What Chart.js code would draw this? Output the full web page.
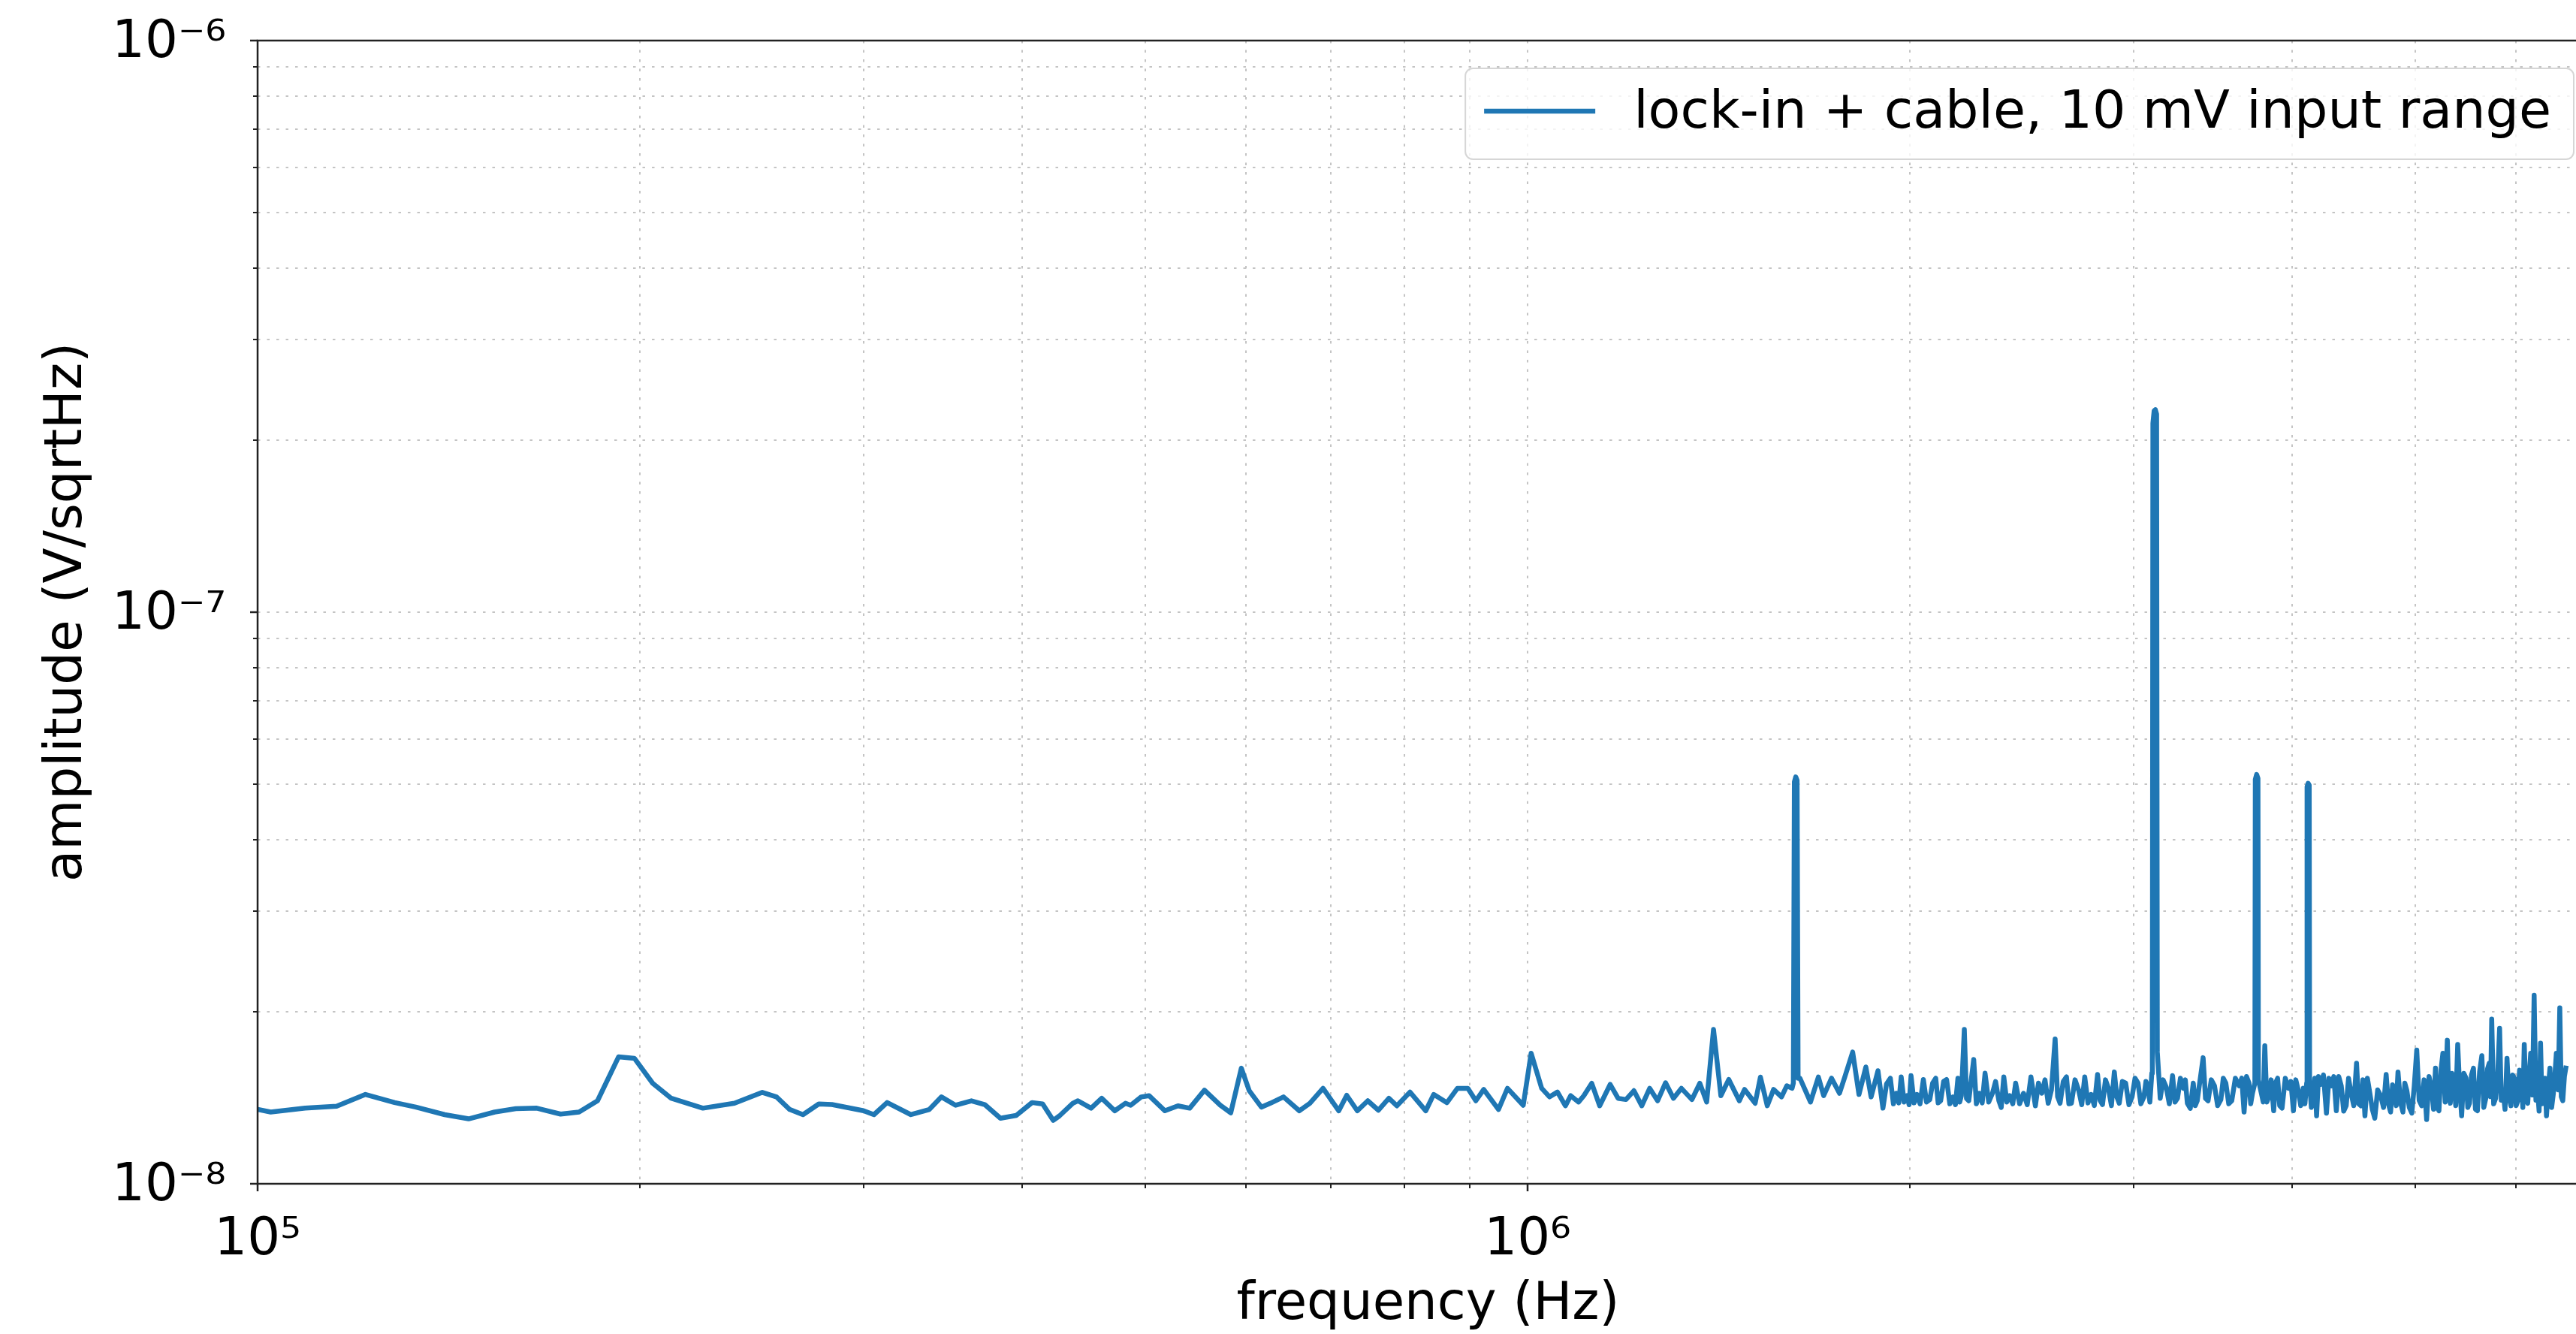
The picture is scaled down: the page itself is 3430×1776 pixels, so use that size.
<!DOCTYPE html>
<html>
<head>
<meta charset="utf-8">
<title>lock-in noise spectrum</title>
<script src="https://cdn.jsdelivr.net/npm/chart.js@4.4.1/dist/chart.umd.min.js"></script>
<style>
  html, body { margin: 0; padding: 0; background: #fff; overflow: hidden; }
  #wrap { width: 3470px; height: 1776px; }
</style>
</head>
<body>
<div id="wrap"><canvas id="spectrumChart" width="3470" height="1776"></canvas></div>
<script>
// frequency in kHz, amplitude in nV/sqrtHz
const lowFreqKHz = [
  100.0, 102.4, 109.0, 115.4, 121.6, 128.2, 133.2, 140.4, 146.6, 153.7,
  159.7, 165.9, 173.2, 179.1, 185.2, 192.4, 198.0, 204.7, 211.7, 224.2,
  237.4, 249.7, 256.2, 262.4, 268.8, 276.6, 283.3, 300.0, 305.7, 313.1,
  326.9, 338.0, 345.5, 354.5, 364.8, 373.7, 384.5, 395.7, 407.2, 415.1,
  423.1
];
const lowAmpNV = [
  13.49, 13.35, 13.56, 13.67, 14.33, 13.87, 13.62, 13.21, 12.99, 13.35,
  13.53, 13.56, 13.24, 13.35, 13.97, 16.67, 16.58, 14.99, 14.11, 13.56,
  13.83, 14.45, 14.19, 13.49, 13.21, 13.79, 13.76, 13.42, 13.21, 13.87,
  13.21, 13.49, 14.19, 13.72, 13.97, 13.76, 13.02, 13.17, 13.87, 13.79,
  12.91
];

const midFreqKHz = [
  428.0, 438.4, 442.5, 453.2, 462.0, 473.1, 482.3, 486.9, 496.3, 503.4,
  518.1, 530.5, 541.9, 556.6, 572.8, 583.8, 595.1, 603.7, 617.1, 627.2,
  642.4, 661.0, 673.8, 690.1, 710.1, 720.4, 734.3, 748.4, 762.9, 777.6,
  788.9, 807.9, 831.4, 843.4, 863.8, 880.5, 897.4, 910.4, 923.5, 948.6,
  964.1, 992.1, 1006.4, 1025.8, 1040.6, 1055.6, 1070.9, 1081.2, 1096.8, 1107.3,
  1123.3, 1139.5, 1161.5, 1178.2, 1195.2, 1212.5, 1230.0, 1247.8, 1265.8, 1284.1,
  1302.7, 1321.5, 1347.0, 1366.4, 1383.5, 1400.8, 1419.6, 1440.1, 1468.0, 1482.0,
  1510.6, 1525.2, 1544.2, 1562.0, 1584.6, 1599.8, 1615.2, 1619.0, 1622.0, 1626.0,
  1630.0, 1633.0, 1638.5, 1670.0, 1694.1, 1710.4, 1735.1, 1760.2, 1777.1, 1802.8,
  1823.5, 1846.4, 1864.1, 1887.4
];
const midAmpNV = [
  13.15, 13.83, 13.97, 13.56, 14.11, 13.42, 13.83, 13.72, 14.19, 14.26,
  13.42, 13.69, 13.56, 14.58, 13.72, 13.31, 15.93, 14.55, 13.62, 13.83,
  14.19, 13.42, 13.83, 14.69, 13.42, 14.28, 13.42, 13.97, 13.45, 14.11,
  13.69, 14.47, 13.42, 14.33, 13.86, 14.69, 14.69, 13.97, 14.62, 13.49,
  14.69, 13.72, 16.92, 14.69, 14.19, 14.47, 13.69, 14.26, 13.90, 14.26,
  14.99, 13.69, 14.92, 14.11, 14.04, 14.55, 13.69, 14.69, 13.97, 15.02,
  14.11, 14.69, 14.04, 14.99, 13.90, 18.62, 14.26, 15.22, 13.97, 14.62,
  13.83, 15.37, 13.69, 14.62, 14.19, 14.84, 14.69, 15.0, 50.5, 51.5,
  50.8, 15.3, 15.30, 13.90, 15.37, 14.26, 15.30, 14.40, 15.37, 17.00,
  14.33, 16.01, 14.19, 15.77
];

const highFreqKHz = [
  1904.5, 1917.0, 1930.2, 1941.0, 1951.1, 1960.0, 1968.6, 1979.0, 1989.8, 1997.0,
  2004.1, 2015.0, 2025.7, 2037.0, 2049.4, 2061.0, 2073.4, 2084.0, 2095.8, 2105.0,
  2114.6, 2126.0, 2137.4, 2150.0, 2162.4, 2172.0, 2181.8, 2189.0, 2195.5, 2207.3,
  2216.0, 2225.1, 2245.2, 2256.0, 2267.4, 2280.0, 2291.9, 2307.0, 2322.8, 2336.0,
  2350.0, 2360.0, 2371.1, 2384.0, 2396.7, 2410.0, 2422.6, 2440.0, 2457.5, 2474.0,
  2490.7, 2510.8, 2525.0, 2540.2, 2555.0, 2569.9, 2585.0, 2602.3, 2614.0, 2625.7,
  2641.0, 2656.4, 2668.0, 2680.3, 2698.0, 2716.5, 2731.0, 2745.8, 2762.0, 2777.9,
  2794.0, 2810.4, 2823.0, 2835.7, 2851.0, 2866.3, 2882.0, 2897.2, 2910.0, 2923.2,
  2940.0, 2957.4, 2975.0, 2992.0, 3008.0, 3024.3, 3040.0, 3056.9, 3068.0, 3078.9,
  3090.0, 3101.0, 3104.0, 3107.0, 3114.0, 3121.0, 3128.0, 3132.0
];
const highAmpNV = [
  13.56, 14.95, 15.30, 13.80, 14.40, 13.85, 15.38, 13.90, 14.26, 13.75,
  15.46, 13.85, 14.33, 13.80, 15.22, 13.90, 14.04, 15.00, 15.30, 13.85,
  13.97, 15.10, 15.22, 13.80, 14.19, 13.75, 15.30, 13.90, 14.26, 18.62,
  14.10, 13.97, 16.50, 13.80, 14.40, 13.85, 15.61, 13.90, 14.40, 15.10,
  13.97, 13.60, 15.38, 13.90, 14.26, 13.80, 15.00, 13.80, 14.40, 13.75,
  15.38, 13.69, 15.00, 14.40, 15.20, 13.83, 14.60, 17.92, 14.20, 13.83,
  15.10, 15.38, 13.80, 13.83, 15.20, 14.55, 13.75, 15.38, 13.85, 14.33,
  13.70, 15.53, 14.00, 13.76, 15.20, 14.69, 13.70, 15.69, 14.20, 13.83,
  15.10, 15.00, 13.75, 14.19, 15.30, 15.00, 13.80, 14.19, 15.10, 14.84,
  13.90, 15.61, 17.0, 214, 225, 226, 222, 17.0
];

const upperFreqKHz = [
  3148.5, 3165.0, 3182.5, 3201.0, 3219.7, 3234.0, 3248.7, 3266.0, 3283.7, 3295.0,
  3307.3, 3325.0, 3343.0, 3355.0, 3367.0, 3403.3, 3418.0, 3433.9, 3454.0, 3474.1,
  3494.0, 3514.7, 3530.0, 3546.3, 3565.0, 3584.6, 3608.0, 3633.0, 3650.0, 3665.6,
  3682.0, 3698.5, 3710.0, 3721.8, 3738.0, 3741.0, 3750.0, 3759.0, 3762.0, 3782.2,
  3795.0, 3805.9, 3820.0, 3833.3, 3850.0, 3867.6, 3880.0, 3895.4, 3910.0, 3926.8,
  3950.0, 3972.8, 3990.0, 4008.5, 4026.0, 4044.5, 4062.0, 4080.8, 4093.0, 4106.0,
  4109.0, 4117.0, 4125.0, 4128.0, 4141.0, 4154.5, 4167.0, 4180.5, 4195.0, 4210.5,
  4233.0, 4255.9, 4275.0, 4294.2, 4313.0, 4332.8, 4352.0, 4371.7, 4391.0, 4411.0,
  4430.0, 4450.6, 4472.0, 4494.6, 4512.0, 4531.0, 4547.0, 4563.5, 4584.0
];
const upperAmpNV = [
  14.11, 15.20, 14.77, 13.80, 15.46, 13.90, 14.11, 15.30, 14.69, 15.20,
  13.83, 13.55, 15.00, 13.70, 13.97, 16.62, 14.10, 13.97, 15.20, 14.84,
  13.70, 14.04, 15.30, 15.00, 13.80, 13.97, 15.30, 14.84, 15.30, 13.35,
  15.40, 15.00, 13.80, 14.40, 15.0, 51.0, 52.0, 51.2, 15.2, 14.40,
  13.90, 17.44, 13.90, 14.19, 15.20, 13.42, 15.00, 15.30, 13.70, 13.56,
  15.30, 14.69, 15.10, 13.42, 15.20, 14.55, 13.70, 14.69, 13.80, 15.0,
  49.5, 50.2, 49.8, 15.0, 13.60, 14.40, 15.30, 13.15, 15.40, 14.92,
  15.50, 13.29, 15.30, 14.84, 15.40, 13.42, 15.40, 14.84, 13.40, 13.69,
  15.30, 14.40, 13.70, 16.25, 13.80, 13.69, 15.20, 13.15, 15.30
];

// dense noisy part at the top end of the sweep
const topFreqKHz = [
  4604.5, 4625.0, 4645.9, 4670.0, 4696.0, 4720.0, 4742.5, 4762.0, 4780.8, 4798.0,
  4815.2, 4830.0, 4845.4, 4867.0, 4889.0, 4906.0, 4924.1, 4946.0, 4968.4, 4990.0,
  5013.0, 5035.0, 5058.0, 5080.0, 5103.5, 5126.0, 5149.3, 5168.0, 5186.3, 5202.0,
  5218.9, 5238.0, 5256.4, 5278.0, 5298.8, 5313.0, 5327.4, 5344.0, 5360.8, 5380.0,
  5399.3, 5418.0, 5438.0, 5460.0, 5481.9, 5499.0, 5516.3, 5536.0, 5556.0, 5576.0,
  5595.8, 5618.0, 5641.0, 5661.0, 5681.5, 5700.0, 5717.2, 5730.0, 5742.8, 5763.0,
  5784.1, 5805.0, 5825.6, 5843.0, 5862.2, 5883.0, 5904.3, 5925.0, 5946.6, 5965.0,
  5984.0, 6003.0, 6021.6, 6040.0, 6059.4, 6076.0, 6092.0, 6111.0, 6130.3, 6147.0,
  6163.3, 6183.0, 6202.0, 6222.0, 6241.0, 6258.0, 6274.5, 6291.0, 6308.3, 6325.0,
  6342.3, 6362.0, 6382.2, 6402.0, 6422.2, 6440.0, 6456.8, 6478.0, 6497.3, 6515.0,
  6532.3, 6552.0, 6573.3
];
const topAmpNV = [
  14.40, 13.50, 13.02, 14.60, 14.26, 13.60, 15.53, 13.80, 13.35, 14.90,
  14.40, 13.70, 15.69, 13.90, 13.35, 15.00, 14.55, 13.60, 13.29, 14.80,
  17.14, 14.00, 13.69, 15.20, 12.95, 15.40, 14.69, 13.50, 15.93, 13.60,
  13.42, 15.80, 16.92, 13.90, 17.83, 14.30, 13.83, 15.60, 15.30, 13.70,
  17.53, 14.80, 13.15, 15.60, 15.30, 13.60, 13.83, 15.50, 15.93, 13.50,
  13.42, 15.70, 16.75, 13.60, 14.11, 15.90, 16.25, 14.20, 19.42, 13.80,
  14.11, 15.40, 18.71, 14.00, 14.55, 13.50, 16.58, 14.20, 13.69, 15.50,
  15.30, 13.70, 13.97, 15.80, 15.61, 13.60, 17.53, 14.20, 13.83, 15.40,
  16.92, 14.30, 21.37, 14.00, 14.55, 13.40, 17.62, 13.80, 14.11, 15.30,
  13.15, 14.60, 15.93, 13.60, 14.40, 15.50, 16.92, 14.60, 20.32, 14.20,
  13.97, 15.40, 16.09
];

const xTickValues = [1e5, 2e5, 3e5, 4e5, 5e5, 6e5, 7e5, 8e5, 9e5, 1e6, 2e6, 3e6, 4e6, 5e6, 6e6];
const xTickLabels = ["10⁵", "", "", "", "", "", "", "", "", "10⁶", "", "", "", "", ""];
const yTickValues = [
  1e-8, 2e-8, 3e-8, 4e-8, 5e-8, 6e-8, 7e-8, 8e-8, 9e-8,
  1e-7, 2e-7, 3e-7, 4e-7, 5e-7, 6e-7, 7e-7, 8e-7, 9e-7, 1e-6
];
const yTickLabels = [
  "10⁻⁸", "", "", "", "", "", "", "", "",
  "10⁻⁷", "", "", "", "", "", "", "", "",
  "10⁻⁶"
];

const seriesLabel = "lock-in + cable, 10 mV input range";
const lineColor = "#1f77b4";
const gridColor = "#c4c4c4";

const freqKHz = lowFreqKHz.concat(midFreqKHz, highFreqKHz, upperFreqKHz, topFreqKHz);
const ampNV = lowAmpNV.concat(midAmpNV, highAmpNV, upperAmpNV, topAmpNV);
const points = freqKHz.map((f, i) => ({ x: f * 1e3, y: ampNV[i] * 1e-9 }));

// box around the plot area (matplotlib style spines)
const axesFrame = {
  id: "axesFrame",
  afterDraw(chart) {
    const { ctx, chartArea: a } = chart;
    ctx.save();
    ctx.strokeStyle = "#222";
    ctx.lineWidth = 2.5;
    ctx.strokeRect(a.left, a.top, a.right - a.left, a.bottom - a.top);
    ctx.restore();
  },
};

// legend in upper right corner of the axes
const legendBox = {
  id: "legendBox",
  afterDraw(chart) {
    const { ctx, chartArea: a } = chart;
    const ds = chart.data.datasets[0];
    ctx.save();
    ctx.font = '70px "DejaVu Sans"';
    const textWidth = ctx.measureText(ds.label).width;
    const w = 224 + textWidth + 30;
    const h = 121;
    const x = a.right - 33 - w;
    const y = a.top + 37;
    ctx.beginPath();
    if (ctx.roundRect) {
      ctx.roundRect(x, y, w, h, 10);
    } else {
      ctx.rect(x, y, w, h);
    }
    ctx.fillStyle = "rgba(255,255,255,0.8)";
    ctx.fill();
    ctx.strokeStyle = "rgba(204,204,204,0.8)";
    ctx.lineWidth = 2;
    ctx.stroke();

    ctx.strokeStyle = ds.borderColor;
    ctx.lineWidth = ds.borderWidth;
    ctx.beginPath();
    ctx.moveTo(x + 25, y + 57);
    ctx.lineTo(x + 173, y + 57);
    ctx.stroke();

    ctx.fillStyle = "#000";
    ctx.textBaseline = "alphabetic";
    ctx.textAlign = "left";
    ctx.fillText(ds.label, x + 224, y + 79);
    ctx.restore();
  },
};

Chart.defaults.font.family = '"DejaVu Sans", sans-serif';
Chart.defaults.color = "#000";

new Chart(document.getElementById("spectrumChart"), {
  type: "line",
  data: {
    datasets: [
      {
        label: seriesLabel,
        data: points,
        borderColor: lineColor,
        borderWidth: 6.5,
        borderJoinStyle: "round",
        pointRadius: 0,
        tension: 0,
        fill: false,
      },
    ],
  },
  options: {
    responsive: false,
    animation: false,
    devicePixelRatio: 1,
    layout: { padding: { left: 0, right: 10, top: 54, bottom: 0 } },
    plugins: {
      legend: { display: false },
      tooltip: { enabled: false },
    },
    scales: {
      x: {
        type: "logarithmic",
        position: "bottom",
        min: 1e5,
        max: 6.97e6,
        afterBuildTicks: (scale) => {
          scale.ticks = xTickValues.map((v) => ({ value: v }));
        },
        afterFit: (scale) => {
          scale.height = 200;
        },
        ticks: {
          autoSkip: false,
          maxRotation: 0,
          minRotation: 0,
          padding: 25,
          color: "#000",
          font: { size: 69 },
          callback: (value, index) => xTickLabels[index],
        },
        grid: {
          color: gridColor,
          lineWidth: 2,
          tickLength: 10,
          tickColor: "#222",
          tickWidth: (ctx) => (xTickLabels[ctx.index] ? 2.5 : 2),
          tickBorderDash: (ctx) => (xTickLabels[ctx.index] ? [] : [6, 100]),
        },
        border: { display: false, dash: [3.5, 9] },
        title: {
          display: true,
          text: "frequency (Hz)",
          color: "#000",
          font: { size: 69, lineHeight: 1.1 },
          padding: { top: 0, bottom: 0 },
        },
      },
      y: {
        type: "logarithmic",
        min: 1e-8,
        max: 1e-6,
        afterBuildTicks: (scale) => {
          scale.ticks = yTickValues.map((v) => ({ value: v }));
        },
        afterFit: (scale) => {
          scale.width = 343;
        },
        ticks: {
          autoSkip: false,
          padding: 32,
          labelOffset: 4,
          color: "#000",
          // small line height so the top label does not push the plot down
          font: { size: 69, lineHeight: 0.6 },
          callback: (value, index) => yTickLabels[index],
        },
        grid: {
          color: gridColor,
          lineWidth: 2,
          tickLength: 10,
          tickColor: "#222",
          tickWidth: (ctx) => (yTickLabels[ctx.index] ? 2.5 : 2),
          tickBorderDash: (ctx) => (yTickLabels[ctx.index] ? [] : [0, 4, 6, 100]),
        },
        border: { display: false, dash: [3.5, 9] },
        title: {
          display: true,
          text: "amplitude (V/sqrtHz)",
          color: "#000",
          font: { size: 69, lineHeight: 1.1 },
          padding: { top: 52, bottom: 0 },
        },
      },
    },
  },
  plugins: [axesFrame, legendBox],
});
</script>
</body>
</html>
